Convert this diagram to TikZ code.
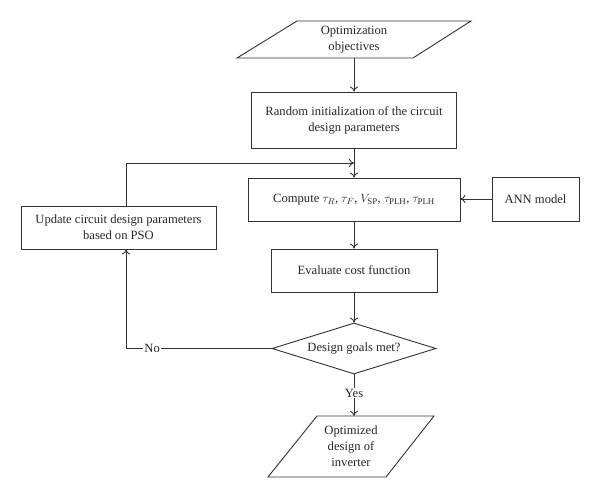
\documentclass[tikz,border=0pt]{standalone}
\usepackage{fontspec}
\setmainfont{Liberation Serif}
\usetikzlibrary{shapes.geometric,arrows.meta}
\begin{document}
\begin{tikzpicture}[x=1pt,y=-1pt,
  every node/.style={font=\fontsize{12.6}{16}\selectfont, text=black!85},
  proc/.style={draw=black!80, line width=0.9pt, rectangle, inner sep=0pt, align=center},
  textonly/.style={inner sep=0pt, align=center},
  dec/.style={draw=black!80, line width=0.9pt, diamond, aspect=3.2, inner sep=0pt, minimum width=164, minimum height=51},
  conn/.style={draw=black!80, line width=0.9pt},
  arr/.style={conn, -{To[length=5pt,width=8pt]}},
  lbl/.style={fill=white, inner sep=1pt}]
\useasboundingbox (0,0) rectangle (600,498);
% top parallelogram
\node[textonly, minimum width=176, minimum height=37] (obj) at (354,39.5) {Optimization\\objectives};
\draw[conn, line join=miter] (297,21) -- (471,21) -- (413,58) -- (237,58) -- cycle;
\node[proc, minimum width=205, minimum height=56] (rand) at (354,120) {Random initialization of the circuit\\design parameters};
\node[proc, minimum width=212, minimum height=43] (comp) at (354,199.5) {Compute $\tau_R$, $\tau_F$, $V_{\mathrm{SP}}$, $\tau_{\mathrm{PLH}}$, $\tau_{\mathrm{PLH}}$};
\node[proc, minimum width=87, minimum height=44] (ann) at (535.5,199) {ANN model};
\node[proc, minimum width=195, minimum height=43] (upd) at (118.5,227.5) {Update circuit design parameters\\based on PSO};
\node[proc, minimum width=166, minimum height=43] (eval) at (354,270.5) {Evaluate cost function};
\node[dec] (dia) at (354,348.5) {Design goals met?};
% bottom parallelogram
\node[textonly, minimum width=118, minimum height=61] (out) at (351,446.5) {Optimized\\design of\\inverter};
\draw[conn, line join=miter] (317,416) -- (434,416) -- (386,477) -- (268,477) -- cycle;
\coordinate (fb) at (126,163);
% connectors
\draw[arr] (obj.south -| rand.north) -- (rand.north);
\draw[arr] (rand.south) -- (comp.north);
\draw[arr] (ann.west) -- (ann.west -| comp.east);
\draw[arr] (comp.south) -- (eval.north);
\draw[arr] (eval.south) -- (dia.north);
\draw[arr] (dia.south) -- node[lbl, pos=0.45] {Yes} (dia.south |- out.north);
\draw[arr] (dia.west) -- node[lbl, pos=0.82] {No} (fb |- dia.west) -- (fb |- upd.south);
\draw[arr] (fb |- upd.north) -- (fb) -- (fb -| rand.south);
\end{tikzpicture}
\end{document}
